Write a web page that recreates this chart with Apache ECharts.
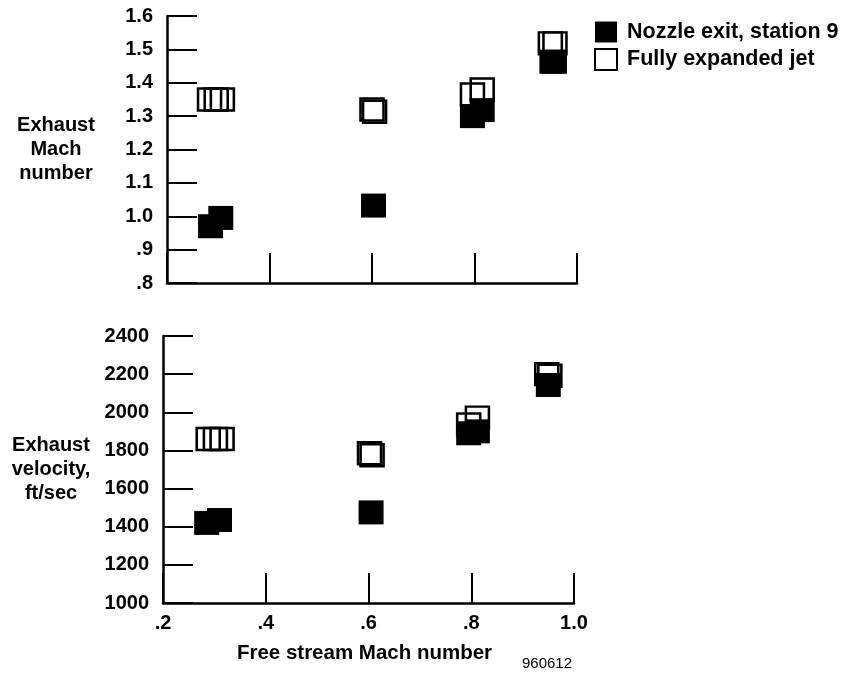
<!DOCTYPE html>
<html>
<head>
<meta charset="utf-8">
<script src="https://cdn.jsdelivr.net/npm/echarts@6/dist/echarts.min.js"></script>
<style>
html,body{margin:0;padding:0;background:#fff;}
#c{width:841px;height:673px;}
</style>
</head>
<body>
<div id="c"></div>
<script>
// ---- data ----
const seriesNames = ['Nozzle exit, station 9', 'Fully expanded jet'];
const xTickLabels = ['.2', '.4', '.6', '.8', '1.0'];
const machTickLabels = ['.8', '.9', '1.0', '1.1', '1.2', '1.3', '1.4', '1.5', '1.6'];
const velTickLabels = ['1000', '1200', '1400', '1600', '1800', '2000', '2200', '2400'];

// Exhaust Mach number, nozzle exit (filled)
const machExitX = [0.285, 0.305, 0.603, 0.796, 0.815, 0.951, 0.956];
const machExitY = [0.97, 0.995, 1.032, 1.300, 1.318, 1.463, 1.463];
// Exhaust Mach number, fully expanded jet (open)
const machJetX = [0.283, 0.296, 0.308, 0.6, 0.605, 0.796, 0.815, 0.948, 0.957];
const machJetY = [1.35, 1.35, 1.35, 1.32, 1.313, 1.365, 1.38, 1.518, 1.518];

// Exhaust velocity, nozzle exit (filled)
const velExitX = [0.285, 0.31, 0.605, 0.795, 0.812, 0.95];
const velExitY = [1420, 1435, 1475, 1890, 1900, 2143];
// Exhaust velocity, fully expanded jet (open)
const velJetX = [0.288, 0.302, 0.315, 0.602, 0.607, 0.795, 0.812, 0.947, 0.953];
const velJetY = [1860, 1860, 1860, 1785, 1775, 1936, 1972, 2200, 2192];

const zip = (xs, ys) => xs.map((x, i) => [x, ys[i]]);

// ---- styling ----
const FONT = "'Liberation Sans', Arial, Helvetica, sans-serif";
const black = '#000';
const lbl = {color: black, fontFamily: FONT, fontWeight: 'bold', fontSize: 20};

function xAx(gridIndex, showLabels, name) {
  return {
    type: 'value', gridIndex, min: 0.2, max: 1.0, interval: 0.2,
    axisLine: {show: true, lineStyle: {color: black, width: 2.5}},
    axisTick: {show: true, inside: true, length: 30, lineStyle: {color: black, width: 2}},
    splitLine: {show: false},
    axisLabel: {show: showLabels, margin: 10, ...lbl,
      formatter: (v, i) => xTickLabels[i]},
    name: name || '', nameLocation: 'middle', nameGap: 50,
    nameTextStyle: {...lbl, fontSize: 20.5, verticalAlign: 'middle', padding: [0, 8, 0, 0]}
  };
}
function yAx(gridIndex, min, max, interval, labels, name, gap) {
  return {
    type: 'value', gridIndex, min, max, interval,
    axisLine: {show: true, lineStyle: {color: black, width: 2.5}},
    axisTick: {show: true, inside: true, length: 30, lineStyle: {color: black, width: 2}},
    splitLine: {show: false},
    axisLabel: {margin: 14, ...lbl, formatter: (v, i) => labels[i]},
    name, nameLocation: 'middle', nameRotate: 0, nameGap: gap,
    nameTextStyle: {...lbl, align: 'center', verticalAlign: 'middle', lineHeight: 24}
  };
}

const filledStyle = {color: black, borderColor: black, borderWidth: 0, opacity: 1};
const openStyle = {color: 'rgba(0,0,0,0)', borderColor: black, borderWidth: 2.5, opacity: 1};

const option = {
  animation: false,
  backgroundColor: '#fff',
  grid: [
    {left: 167, top: 16, width: 410, height: 267},
    {left: 163, top: 336, width: 411, height: 267}
  ],
  xAxis: [xAx(0, false), xAx(1, true, 'Free stream Mach number')],
  yAxis: [
    yAx(0, 0.8, 1.6, 0.1, machTickLabels, 'Exhaust\nMach\nnumber', 111),
    yAx(1, 1000, 2400, 200, velTickLabels, 'Exhaust\nvelocity,\nft/sec', 112)
  ],
  legend: {
    orient: 'vertical', left: 589, top: 16,
    itemWidth: 22, itemHeight: 21, itemGap: 5,
    icon: 'rect', selectedMode: false,
    textStyle: {...lbl, fontSize: 21.5, padding: [0, 0, 0, 5]},
    data: seriesNames
  },
  series: [
    {name: seriesNames[1], type: 'scatter', xAxisIndex: 0, yAxisIndex: 0, symbol: 'rect',
     symbolSize: [23, 22], itemStyle: openStyle, silent: true, z: 2, data: zip(machJetX, machJetY)},
    {name: seriesNames[0], type: 'scatter', xAxisIndex: 0, yAxisIndex: 0, symbol: 'rect',
     symbolSize: [25, 24], itemStyle: filledStyle, silent: true, z: 3, data: zip(machExitX, machExitY)},
    {name: seriesNames[1], type: 'scatter', xAxisIndex: 1, yAxisIndex: 1, symbol: 'rect',
     symbolSize: [23, 22], itemStyle: openStyle, silent: true, z: 2, data: zip(velJetX, velJetY)},
    {name: seriesNames[0], type: 'scatter', xAxisIndex: 1, yAxisIndex: 1, symbol: 'rect',
     symbolSize: [25, 24], itemStyle: filledStyle, silent: true, z: 3, data: zip(velExitX, velExitY)}
  ],
  graphic: [
    {type: 'text', left: 522, top: 656, silent: true,
     style: {text: '960612', fill: black, font: "15px " + FONT}}
  ]
};

const chart = echarts.init(document.getElementById('c'), null, {renderer: 'canvas'});
chart.setOption(option);
</script>
</body>
</html>
